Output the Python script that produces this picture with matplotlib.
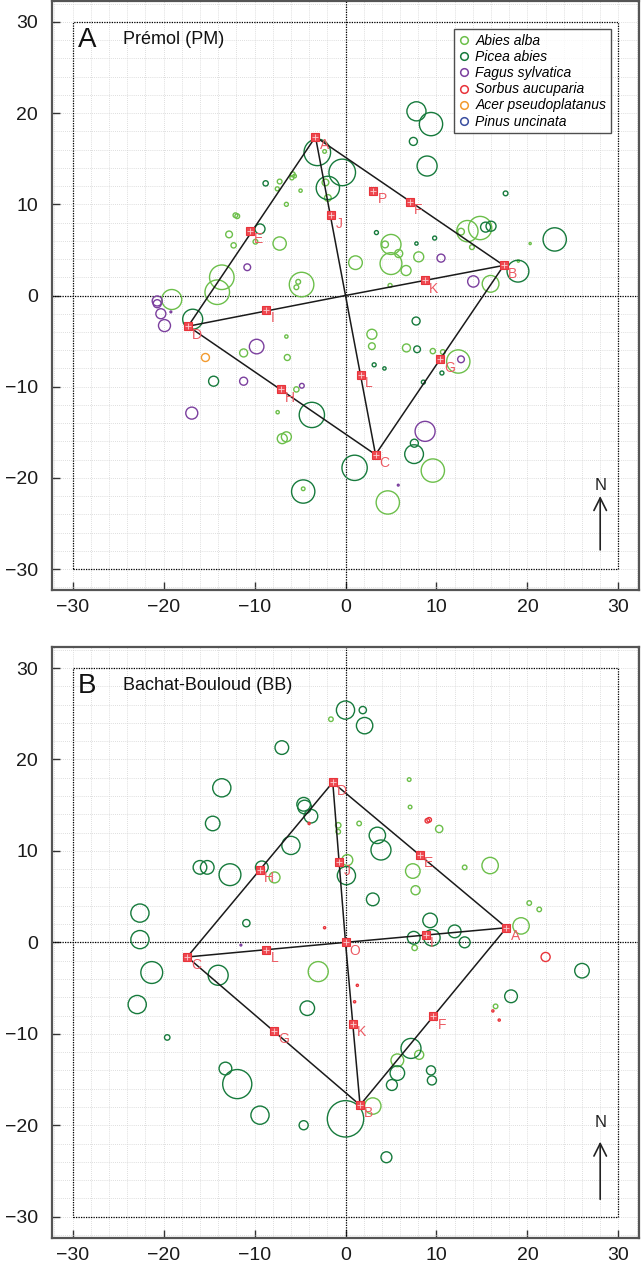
import numpy as np
import matplotlib
matplotlib.use("Agg")
import matplotlib.pyplot as plt
from matplotlib.lines import Line2D

plt.rcParams['font.family'] = ['Liberation Sans', 'DejaVu Sans']

# ---------------- colours ----------------
species = ["Abies alba", "Picea abies", "Fagus sylvatica", "Sorbus aucuparia",
           "Acer pseudoplatanus", "Pinus uncinata"]
colors = ["#6cbf4a", "#167a3c", "#7b3f9e", "#e8333a", "#f29a2e", "#3a4fa0"]

# ---------------- Panel A data (x, y, radius) ----------------
A_abies_x = [-2.3, -2.2, -1.94, -5.8, -5.9, -5.6, -7.24, -7.5, -4.94, -6.5, -12.1, -11.9, -12.8, -9.9, -7.24,
             -12.3, 1.1, -13.6, -14.1, -4.83, -5.2, -5.4, -19.1, -11.2, -6.5, -6.4, -5.4, -7.46, -6.95, -6.5,
             -4.65, 5.0, 4.35, 5.85, 5.0, 6.66, 8.05, 4.9, 13.4, 14.8, 12.7, 13.9, 20.3, 19.0, 15.95, 2.9,
             2.9, 6.7, 9.6, 10.7, 12.4, 9.6, 4.65]
A_abies_y = [15.8, 12.4, 10.7, 13.3, 12.9, 13.1, 12.5, 11.7, 11.5, 10.0, 8.8, 8.7, 6.7, 5.9, 5.7,
             5.5, 3.6, 2.0, 0.36, 1.2, 1.5, 0.9, -0.44, -6.3, -4.5, -6.8, -10.3, -12.8, -15.7, -15.5,
             -21.2, 5.6, 5.6, 4.6, 3.5, 2.74, 4.24, 1.1, 7.06, 7.4, 7.0, 5.3, 5.7, 3.77, 1.28, -4.25,
             -5.56, -5.75, -6.1, -6.2, -7.24, -19.2, -22.7]
A_abies_r = [0.2, 0.37, 0.37, 0.26, 0.22, 0.2, 0.26, 0.22, 0.18, 0.22, 0.26, 0.26, 0.37, 0.26, 0.73,
             0.29, 0.75, 1.35, 1.35, 1.35, 0.26, 0.26, 1.1, 0.44, 0.18, 0.33, 0.29, 0.18, 0.55, 0.55,
             0.2, 1.1, 0.37, 0.44, 1.2, 0.55, 0.55, 0.22, 1.17, 1.28, 0.37, 0.26, 0.12, 0.12, 0.92, 0.55,
             0.37, 0.44, 0.29, 0.26, 1.28, 1.28, 1.28]

A_picea_x = [-3.1, -0.36, -1.94, -8.78, -9.4, -16.8, -14.5, -3.7, 1.0, -4.65, 7.8, 9.4, 7.46, 8.97, 17.6,
             3.4, 9.8, 7.8, 15.4, 16.0, 23.0, 18.96, 7.76, 7.87, 3.15, 4.28, 8.56, 10.6, 7.57, 7.54]
A_picea_y = [15.7, 13.5, 11.8, 12.3, 7.3, -2.6, -9.4, -13.1, -18.9, -21.5, 20.2, 18.8, 16.9, 14.2, 11.2,
             6.9, 6.3, 5.7, 7.5, 7.6, 6.15, 2.67, -2.8, -5.9, -7.6, -8.0, -9.5, -8.5, -16.2, -17.4]
A_picea_r = [1.46, 1.46, 1.28, 0.29, 0.55, 1.1, 0.55, 1.39, 1.39, 1.28, 1.05, 1.28, 0.44, 1.1, 0.26,
             0.22, 0.22, 0.18, 0.55, 0.55, 1.28, 1.2, 0.44, 0.37, 0.22, 0.18, 0.22, 0.22, 0.44, 1.03]

A_fagus_x = [-10.8, -20.7, -20.7, -20.3, -19.9, -19.2, -9.77, -11.2, -4.8, -16.9, 10.5, 14.05, 12.7, 8.75, 5.8]
A_fagus_y = [3.1, -0.6, -0.9, -2.0, -3.3, -1.8, -5.6, -9.4, -9.9, -12.9, 4.1, 1.54, -7.0, -14.9, -20.8]
A_fagus_r = [0.37, 0.55, 0.44, 0.55, 0.66, 0.1, 0.8, 0.44, 0.26, 0.66, 0.44, 0.62, 0.37, 1.1, 0.1]

A_sorbus_x, A_sorbus_y, A_sorbus_r = [], [], []
A_acer_x = [-15.4, -17.3]
A_acer_y = [-6.8, -3.4]
A_acer_r = [0.44, 0.3]
A_pinus_x, A_pinus_y, A_pinus_r = [], [], []

# sampling points (letters)
A_pt_names = ["A", "B", "C", "D", "E", "F", "G", "H", "I", "J", "K", "L", "P"]
A_pt_x = [-3.3, 17.4, 3.3, -17.3, -10.5, 7.1, 10.35, -7.1, -8.7, -1.57, 8.75, 1.65, 3.07]
A_pt_y = [17.4, 3.3, -17.45, -3.37, 7.1, 10.3, -7.0, -10.3, -1.6, 8.78, 1.65, -8.7, 11.5]

# ---------------- Panel B data ----------------
B_abies_x = [-1.6, -0.8, 1.5, -0.8, 0.2, -7.8, 7.4, 7.7, 15.9, 13.1, 10.3, 7.1, 7.0, 19.3, 20.2, 21.3,
             16.5, 8.1, 5.7, 3.0, -3.0, 7.6]
B_abies_y = [24.4, 12.8, 13.0, 12.1, 9.0, 7.1, 7.8, 5.7, 8.4, 8.2, 12.4, 14.8, 17.8, 1.8, 4.3, 3.6,
             -7.0, -12.3, -12.9, -17.9, -3.2, -0.6]
B_abies_r = [0.25, 0.3, 0.25, 0.25, 0.6, 0.6, 0.8, 0.5, 0.9, 0.25, 0.4, 0.2, 0.2, 0.9, 0.25, 0.25,
             0.25, 0.5, 0.7, 0.9, 1.1, 0.3]

B_picea_x = [0.0, 1.9, 2.1, -7.0, -13.6, -14.6, -4.6, -4.5, -3.8, 3.5, 3.9, 0.1, 3.0, -16.0, -15.2, -12.7,
             -9.2, -6.0, 26.0, 18.2, 9.5, 7.5, 9.3, 12.0, 13.1, 7.2, 5.7, 5.1, 9.4, 9.5, 0.0, -4.6, -9.4,
             -11.9, -13.2, -14.0, -21.3, -22.6, -22.6, -22.9, -19.6, -4.2, -10.9, 4.5]
B_picea_y = [25.4, 25.4, 23.7, 21.3, 16.9, 13.0, 15.1, 14.8, 13.8, 11.7, 10.1, 7.3, 4.7, 8.2, 8.2, 7.4,
             8.2, 10.6, -3.1, -5.9, 0.5, 0.5, 2.4, 1.2, 0.0, -11.6, -14.3, -15.6, -14.0, -15.1, -19.3, -20.0, -18.9,
             -15.5, -13.8, -3.6, -3.3, 0.3, 3.2, -6.8, -10.4, -7.2, 2.1, -23.5]
B_picea_r = [1.0, 0.4, 0.9, 0.75, 1.0, 0.8, 0.75, 0.75, 0.75, 0.9, 1.1, 1.0, 0.7, 0.75, 0.75, 1.2,
             0.7, 1.0, 0.8, 0.7, 0.9, 0.7, 0.8, 0.7, 0.6, 1.1, 0.8, 0.6, 0.5, 0.5, 2.0, 0.5, 1.0,
             1.6, 0.7, 1.1, 1.2, 1.0, 1.0, 1.0, 0.3, 0.8, 0.4, 0.6]

B_fagus_x, B_fagus_y, B_fagus_r = [-11.5], [-0.3], [0.1]
B_sorbus_x = [9.0, 9.2, 22.0, -2.3, 16.2, 16.9, 1.3, 1.0, -4.0]
B_sorbus_y = [13.3, 13.4, -1.6, 1.6, -7.5, -8.5, -4.7, -6.5, 13.0]
B_sorbus_r = [0.25, 0.25, 0.5, 0.12, 0.12, 0.12, 0.12, 0.12, 0.12]
B_acer_x, B_acer_y, B_acer_r = [], [], []
B_pinus_x, B_pinus_y, B_pinus_r = [], [], []

B_pt_names = ["A", "B", "C", "D", "E", "F", "G", "H", "I", "J", "K", "L", "O"]
B_pt_x = [17.7, 1.6, -17.4, -1.4, 8.15, 9.65, -7.9, -9.4, 8.85, -0.7, 0.8, -8.7, 0.0]
B_pt_y = [1.6, -17.8, -1.6, 17.5, 9.55, -8.1, -9.7, 7.95, 0.8, 8.75, -8.9, -0.8, 0.0]

# ---------------- figure ----------------
W, H = 642, 1265
fig = plt.figure(figsize=(W / 100, H / 100), dpi=100)
LIM = 32.3

axA = fig.add_axes([51.7 / W, 1 - 590 / H, 587.6 / W, 589 / H])
axB = fig.add_axes([51.7 / W, 1 - 1237.7 / H, 587.6 / W, 590.7 / H])


def setup(ax):
    ax.set_xlim(-LIM, LIM)
    ax.set_ylim(-LIM, LIM)
    ax.set_xticks([-30, -20, -10, 0, 10, 20, 30])
    ax.set_yticks([-30, -20, -10, 0, 10, 20, 30])
    ax.set_xticklabels(["\u221230", "\u221220", "\u221210", "0", "10", "20", "30"])
    ax.set_yticklabels(["\u221230", "\u221220", "\u221210", "0", "10", "20", "30"])
    ax.set_xticks(np.arange(-32, 33, 2), minor=True)
    ax.set_yticks(np.arange(-32, 33, 2), minor=True)
    ax.tick_params(which='major', direction='in', length=6, width=1.0, color='#333333',
                   labelsize=14, labelcolor='#1a1a1a')
    ax.tick_params(axis='x', which='major', pad=6.5)
    ax.tick_params(axis='y', which='major', pad=10)
    ax.tick_params(which='minor', length=0)
    ax.grid(which='both', color='#d4d4d4', linestyle=(0, (1, 1.5)), linewidth=0.6, zorder=0)
    ax.set_axisbelow(True)
    for s in ax.spines.values():
        s.set_color('#555555')
        s.set_linewidth(1.6)
    # dotted frame and zero lines
    ax.plot([-30, 30, 30, -30, -30], [-30, -30, 30, 30, -30], color='black', linestyle=(0, (1, 1)),
            linewidth=0.9, zorder=1)
    ax.axhline(0, color='black', linestyle=(0, (1, 1)), linewidth=0.9, zorder=1)
    ax.axvline(0, color='black', linestyle=(0, (1, 1)), linewidth=0.9, zorder=1)


def ppu(ax):
    bb = ax.get_window_extent()
    return bb.width * 72.0 / fig.dpi / (2 * LIM)


def trees(ax, xs, ys, rs, col):
    if len(xs) == 0:
        return
    k = ppu(ax)
    s = [(2 * r * k) ** 2 for r in rs]
    ax.scatter(xs, ys, s=s, facecolors='none', edgecolors=col, linewidths=1.0, zorder=3)


def points(ax, names, xs, ys, poly_idx, center_xy):
    px = [xs[i] for i in poly_idx] + [xs[poly_idx[0]]]
    py = [ys[i] for i in poly_idx] + [ys[poly_idx[0]]]
    ax.plot(px, py, color='#1a1a1a', linewidth=1.1, zorder=4)
    for i in poly_idx:
        ax.plot([center_xy[0], xs[i]], [center_xy[1], ys[i]], color='#1a1a1a', linewidth=1.1, zorder=4)
    ax.plot(xs, ys, linestyle='none', marker='s', markersize=5.5, mfc='#ee4a52', mec='#e8333a',
            mew=0.8, zorder=5)
    ax.plot(xs, ys, linestyle='none', marker='+', markersize=4, mec='#fbd0d2', mew=0.6, zorder=6)
    for n, x, y in zip(names, xs, ys):
        ax.annotate(n, (x, y), xytext=(3, -6), textcoords='offset points', color='#ec5a63',
                    fontsize=10, ha='left', va='center', zorder=6)


def north(ax, y0, y1, yn):
    ax.annotate('', xy=(28.0, y1), xytext=(28.0, y0),
                arrowprops=dict(arrowstyle='->,head_length=0.9,head_width=0.45', lw=1.2, color='#222222',
                                shrinkA=0, shrinkB=0))
    ax.text(28.0, yn, 'N', ha='center', va='center', fontsize=12, color='#222222')


setup(axA)
setup(axB)
fig.canvas.draw()

for ax, data in [(axA, [(A_abies_x, A_abies_y, A_abies_r), (A_picea_x, A_picea_y, A_picea_r),
                        (A_fagus_x, A_fagus_y, A_fagus_r), (A_sorbus_x, A_sorbus_y, A_sorbus_r),
                        (A_acer_x, A_acer_y, A_acer_r), (A_pinus_x, A_pinus_y, A_pinus_r)]),
                 (axB, [(B_abies_x, B_abies_y, B_abies_r), (B_picea_x, B_picea_y, B_picea_r),
                        (B_fagus_x, B_fagus_y, B_fagus_r), (B_sorbus_x, B_sorbus_y, B_sorbus_r),
                        (B_acer_x, B_acer_y, B_acer_r), (B_pinus_x, B_pinus_y, B_pinus_r)])]:
    for (xs, ys, rs), c in zip(data, colors):
        trees(ax, xs, ys, rs, c)

points(axA, A_pt_names, A_pt_x, A_pt_y, [0, 1, 2, 3], (0, 0))
points(axB, B_pt_names, B_pt_x, B_pt_y, [0, 1, 2, 3], (0, 0))

north(axA, -27.9, -22.0, -20.8)
north(axB, -28.1, -21.8, -19.7)

axA.text(-29.4, 27.3, 'A', fontsize=20, color='#111111', va='baseline')
axA.text(-24.5, 27.6, 'Prémol (PM)', fontsize=13, color='#111111', va='baseline')
axB.text(-29.4, 27.3, 'B', fontsize=20, color='#111111', va='baseline')
axB.text(-24.5, 27.6, 'Bachat-Bouloud (BB)', fontsize=13, color='#111111', va='baseline')

handles = [Line2D([], [], linestyle='none', marker='o', markersize=5.5, mfc='none', mec=c, mew=1.1)
           for c in colors]
leg = axA.legend(handles, species, loc='upper right', bbox_to_anchor=(0.952, 0.952),
                 prop={'style': 'italic', 'size': 10}, frameon=True, fancybox=False,
                 handlelength=0.8, handletextpad=0.4, labelspacing=0.15, borderpad=0.35,
                 borderaxespad=0)
leg.get_frame().set_edgecolor('#222222')
leg.get_frame().set_linewidth(1.0)
leg.set_zorder(10)

fig.savefig('out.png', dpi=100)
